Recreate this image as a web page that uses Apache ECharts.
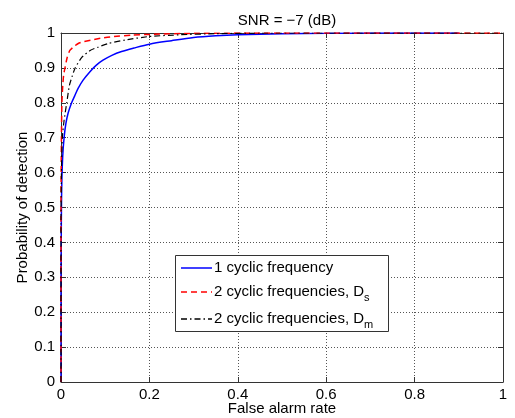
<!DOCTYPE html>
<html>
<head>
<meta charset="utf-8">
<script src="https://cdn.jsdelivr.net/npm/echarts@6/dist/echarts.min.js"></script>
<style>html,body{margin:0;padding:0;background:#fff}#c{width:515px;height:418px}</style>
</head>
<body>
<div id="c"></div>
<script>
// ---- data ----
const titleText = 'SNR = \u22127 (dB)';
const xLabel = 'False alarm rate';
const yLabel = 'Probability of detection';
const seriesNames = ['1 cyclic frequency', '2 cyclic frequencies, D', '2 cyclic frequencies, D'];
const seriesSubs = ['', 's', 'm'];

// 1 cyclic frequency
const faOne = [0, 0, 0.0005, 0.001, 0.002, 0.004, 0.007, 0.011, 0.016, 0.024, 0.031, 0.039, 0.05, 0.066, 0.08, 0.095, 0.115, 0.137, 0.165, 0.2, 0.25, 0.3, 0.35, 0.4, 0.5, 0.6, 0.7, 0.8, 0.9];
const pdOne = [0, 0.3, 0.4, 0.5, 0.58, 0.65, 0.7, 0.74, 0.77, 0.8, 0.82, 0.842, 0.865, 0.89, 0.908, 0.922, 0.936, 0.947, 0.957, 0.968, 0.978, 0.987, 0.992, 0.995, 0.998, 0.999, 1, 1, 1];

// 2 cyclic frequencies, Ds
const faDs = [0, 0, 0.001, 0.002, 0.004, 0.006, 0.009, 0.014, 0.02, 0.03, 0.039, 0.05, 0.069, 0.09, 0.12, 0.16, 0.2, 0.3, 0.5, 1];
const pdDs = [0, 0.5, 0.7, 0.8, 0.85, 0.88, 0.9, 0.93, 0.95, 0.962, 0.97, 0.975, 0.98, 0.985, 0.99, 0.994, 0.996, 0.999, 1, 1];

// 2 cyclic frequencies, Dm
const faDm = [0, 0, 0.001, 0.003, 0.007, 0.013, 0.019, 0.025, 0.032, 0.047, 0.066, 0.085, 0.107, 0.145, 0.2, 0.27, 0.35, 0.45, 0.6, 1];
const pdDm = [0, 0.45, 0.6, 0.7, 0.75, 0.8, 0.85, 0.875, 0.9, 0.93, 0.95, 0.96, 0.97, 0.98, 0.99, 0.995, 0.998, 1, 1, 1];

const pairs = (xs, ys) => xs.map((x, i) => [x, ys[i]]);

const FONT = '"Liberation Sans", Arial, sans-serif';
const colors = ['#0000ff', '#ff0000', '#000000'];
const dashes = ['solid', [6, 4], [6, 3, 1.5, 3]];

const chart = echarts.init(document.getElementById('c'), null, {renderer: 'canvas'});

const gridLine = {show: true, lineStyle: {color: '#555', type: [1, 2], width: 1}};
const axisLine = {show: true, onZero: false, lineStyle: {color: '#333', width: 1}};
const tick = {show: true, inside: true, length: 5, lineStyle: {color: '#333'}};

const legendRows = [268, 292, 319];
const legendGraphics = [
  {type: 'rect', shape: {x: 175.5, y: 255.5, width: 213, height: 76}, style: {fill: '#fff', stroke: '#333', lineWidth: 1}, z: 100}
];
seriesNames.forEach((n, i) => {
  legendGraphics.push({type: 'line', shape: {x1: 181, y1: legendRows[i], x2: 212, y2: legendRows[i]},
    style: {stroke: colors[i], lineWidth: 1.5, lineDash: dashes[i] === 'solid' ? null : dashes[i]}, z: 101});
  legendGraphics.push({type: 'text', x: 214, y: legendRows[i], z: 101,
    style: {text: seriesSubs[i] ? n + '{s|' + seriesSubs[i] + '}' : n, font: '15px ' + FONT, fontSize: 15, fontFamily: FONT,
      fill: '#000', verticalAlign: 'middle',
      rich: {s: {fontSize: 11, fontFamily: FONT, fill: '#000', padding: [12, 0, 0, 0], verticalAlign: 'bottom'}}}});
});

chart.setOption({
  animation: false,
  backgroundColor: '#fff',
  title: {text: titleText, left: 282, top: 8, textAlign: 'center',
    textStyle: {fontFamily: FONT, fontSize: 15, fontWeight: 'normal', color: '#000'}},
  grid: {left: 61, right: 12, top: 33, bottom: 36, containLabel: false, outerBoundsMode: 'none'},
  xAxis: [
    {type: 'value', min: 0, max: 1, interval: 0.2, position: 'bottom',
     name: xLabel, nameLocation: 'middle', nameGap: 19, nameMoveOverlap: false,
     nameTextStyle: {fontFamily: FONT, fontSize: 15, color: '#000'},
     axisLine: axisLine, axisTick: tick, splitLine: gridLine,
     axisLabel: {margin: 5, fontFamily: FONT, fontSize: 15, color: '#000'}},
    {type: 'value', min: 0, max: 1, interval: 0.2, position: 'top',
     axisLine: axisLine, axisTick: tick, splitLine: {show: false}, axisLabel: {show: false}}
  ],
  yAxis: [
    {type: 'value', min: 0, max: 1, interval: 0.1, position: 'left',
     name: yLabel, nameLocation: 'middle', nameGap: 31, nameMoveOverlap: false,
     nameTextStyle: {fontFamily: FONT, fontSize: 15, color: '#000'},
     axisLine: axisLine, axisTick: tick, splitLine: gridLine,
     axisLabel: {margin: 6, fontFamily: FONT, fontSize: 15, color: '#000'}},
    {type: 'value', min: 0, max: 1, interval: 0.1, position: 'right',
     axisLine: axisLine, axisTick: tick, splitLine: {show: false}, axisLabel: {show: false}}
  ],
  series: [
    {name: seriesNames[0], type: 'line', data: pairs(faOne, pdOne), showSymbol: false, smooth: 0.3,
     lineStyle: {color: colors[0], width: 1.5, type: dashes[0]}, z: 3},
    {name: seriesNames[1], type: 'line', data: pairs(faDs, pdDs), showSymbol: false, smooth: 0.2,
     lineStyle: {color: colors[1], width: 1.5, type: dashes[1]}, z: 4},
    {name: seriesNames[2], type: 'line', data: pairs(faDm, pdDm), showSymbol: false, smooth: 0.2,
     lineStyle: {color: colors[2], width: 1.2, type: dashes[2]}, z: 5}
  ],
  graphic: legendGraphics
});
</script>
</body>
</html>
